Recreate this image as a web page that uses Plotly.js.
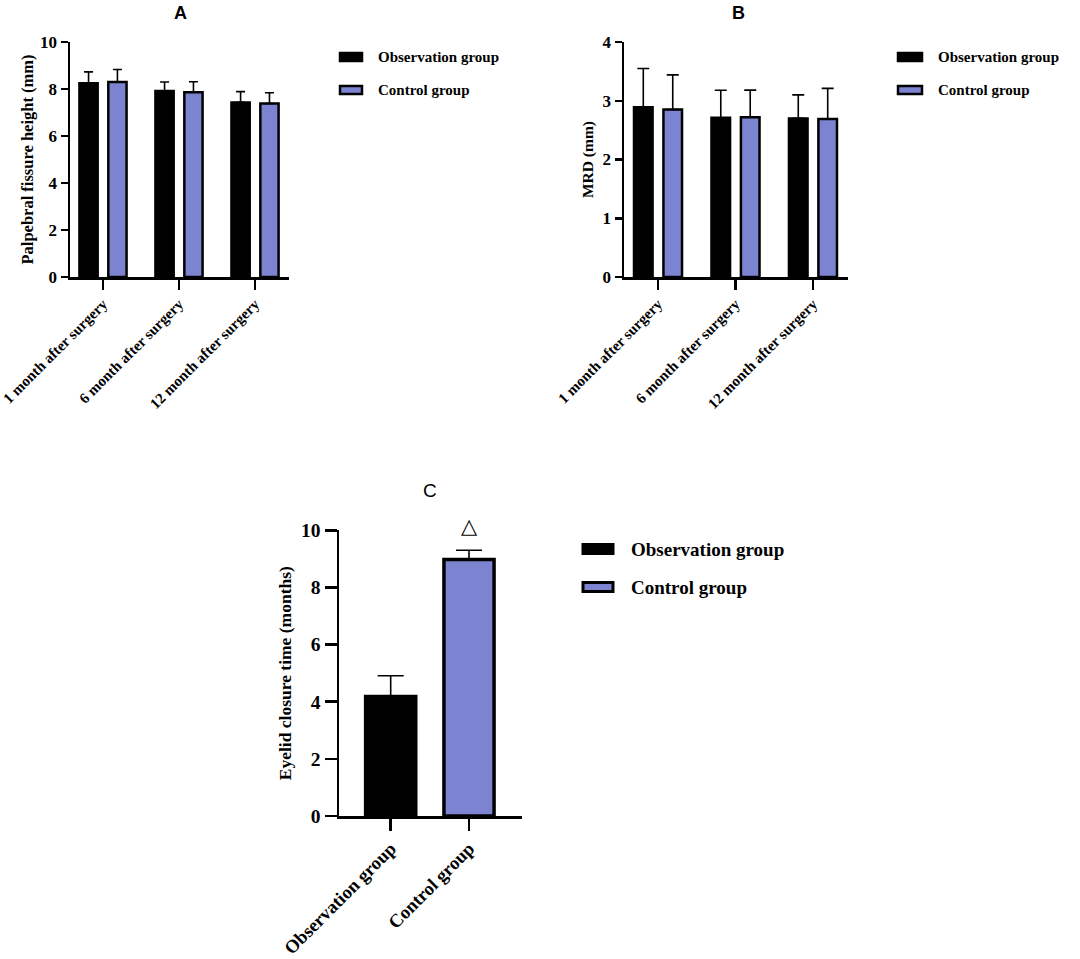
<!DOCTYPE html>
<html>
<head>
<meta charset="utf-8">
<script src="https://cdn.plot.ly/plotly-3.0.1.min.js"></script>
<style>
  html, body { margin: 0; padding: 0; background: #fff; }
  #chart { width: 1080px; height: 959px; }
</style>
</head>
<body>
<div id="chart"></div>
<script>
// categories
var timePoints = ['1 month after surgery', '6 month after surgery', '12 month after surgery'];
var groupNames = ['Observation group', 'Control group'];

// panel A - palpebral fissure height (mm), mean and SD
var fissureObs = [8.25, 7.92, 7.43];
var fissureObsSd = [0.48, 0.38, 0.46];
var fissureCtrl = [8.30, 7.86, 7.38];
var fissureCtrlSd = [0.53, 0.45, 0.46];

// panel B - MRD (mm)
var mrdObs = [2.89, 2.71, 2.70];
var mrdObsSd = [0.66, 0.47, 0.40];
var mrdCtrl = [2.85, 2.72, 2.69];
var mrdCtrlSd = [0.59, 0.46, 0.52];

// panel C - eyelid closure time (months)
var closureMean = [4.18, 8.98];
var closureSd = [0.73, 0.32];

var BLUE = '#7c84d1';
var serif = 'Liberation Serif, Times New Roman, serif';
var sans = 'Liberation Sans, Arial, sans-serif';

function zeros(a) { return a.map(function () { return 0; }); }

function barTrace(x, y, sd, fill, ax, offset, width, lw, cap) {
  return {
    type: 'bar', x: x, y: y,
    xaxis: 'x' + ax, yaxis: 'y' + ax,
    offset: offset, width: width,
    marker: {color: fill, line: {color: '#000', width: lw}},
    error_y: {type: 'data', symmetric: false, array: sd, arrayminus: zeros(sd),
              color: '#000', thickness: 1.6, width: cap},
    showlegend: false, hoverinfo: 'skip'
  };
}

var data = [
  barTrace(timePoints, fissureObs, fissureObsSd, '#000', '', -0.31, 0.24, 2.5, 4.5),
  barTrace(timePoints, fissureCtrl, fissureCtrlSd, BLUE, '', 0.07, 0.24, 2.5, 4.5),
  barTrace(timePoints, mrdObs, mrdObsSd, '#000', '2', -0.31, 0.24, 2.5, 6),
  barTrace(timePoints, mrdCtrl, mrdCtrlSd, BLUE, '2', 0.07, 0.24, 2.5, 6),
  barTrace([groupNames[0]], [closureMean[0]], [closureSd[0]], '#000', '3', -0.32, 0.64, 3.5, 13),
  barTrace([groupNames[1]], [closureMean[1]], [closureSd[1]], BLUE, '3', -0.32, 0.64, 3.5, 13)
];

function xAx(domain, range, anchor, fs, tlen) {
  return {
    domain: domain, range: range, anchor: anchor, type: 'category',
    showline: true, linecolor: '#000', linewidth: 2.5, mirror: false,
    ticks: 'outside', ticklen: tlen, tickwidth: 2.5, tickcolor: '#000',
    showgrid: false, zeroline: false, tickangle: -45, fixedrange: true,
    tickfont: {family: serif, size: fs, color: '#000', weight: 'bold'}
  };
}
function yAx(domain, range, dtick, anchor, title, fs, tfs, standoff, tlen) {
  return {
    domain: domain, range: range, dtick: dtick, anchor: anchor,
    showline: true, linecolor: '#000', linewidth: 2.5,
    ticks: 'outside', ticklen: tlen, tickwidth: 2.5, tickcolor: '#000',
    showgrid: false, zeroline: false, fixedrange: true,
    tickfont: {family: serif, size: fs, color: '#000', weight: 'bold'},
    title: {text: title, standoff: standoff,
            font: {family: serif, size: tfs, color: '#000', weight: 'bold'}}
  };
}

var shapes = [];
var annotations = [];

// panel letters
[['A', 180, 13, 'bold', 18], ['B', 738, 13, 'bold', 18], ['C', 430, 490, 'normal', 19]].forEach(function (t) {
  annotations.push({
    text: t[0], xref: 'paper', yref: 'paper', x: t[1] / 1080, y: 1 - t[2] / 959,
    showarrow: false, xanchor: 'center', yanchor: 'middle',
    font: {family: sans, size: t[4], color: '#000', weight: t[3]}
  });
});

// legends drawn as swatch + label
function legend(x0, x1, tx, ys, h, fs, lw) {
  groupNames.forEach(function (name, i) {
    var y = ys[i];
    shapes.push({
      type: 'rect', xref: 'paper', yref: 'paper',
      x0: x0 / 1080, x1: x1 / 1080, y0: 1 - (y - h / 2) / 959, y1: 1 - (y + h / 2) / 959,
      fillcolor: i === 0 ? '#000' : BLUE, line: {color: '#000', width: lw}
    });
    annotations.push({
      text: name, xref: 'paper', yref: 'paper', x: tx / 1080, y: 1 - y / 959,
      showarrow: false, xanchor: 'left', yanchor: 'middle',
      font: {family: serif, size: fs, color: '#000', weight: 'bold'}
    });
  });
}
legend(340, 362, 376, [57, 90], 8, 15, 2.5);
legend(898, 922, 936, [57, 90], 8, 15, 2.5);
legend(583, 613, 629, [549, 587], 9, 19, 3);

// significance mark over control group
annotations.push({
  text: '\u25B3', xref: 'x3', yref: 'y3', x: groupNames[1], y: 10, yshift: 4,
  showarrow: false, xanchor: 'center', yanchor: 'middle',
  font: {family: 'DejaVu Sans', size: 21, color: '#000'}
});

var layout = {
  width: 1080, height: 959,
  margin: {l: 0, r: 0, t: 0, b: 0},
  paper_bgcolor: '#fff', plot_bgcolor: 'rgba(0,0,0,0)',
  showlegend: false, barmode: 'overlay',
  xaxis: xAx([70 / 1080, 289 / 1080], [-0.434, 2.447], 'y', 15, 10),
  yaxis: yAx([1 - 277 / 959, 1 - 42 / 959], [0, 10], 2, 'x', 'Palpebral fissure height (mm)', 17, 16.5, 3, 7),
  xaxis2: xAx([624 / 1080, 848 / 1080], [-0.439, 2.452], 'y2', 15, 10),
  yaxis2: yAx([1 - 277 / 959, 1 - 42 / 959], [0, 4], 1, 'x2', 'MRD (mm)', 17, 15.5, 5, 7),
  xaxis3: xAx([339 / 1080, 521.7 / 1080], [-0.66, 1.673], 'y3', 18.5, 12),
  yaxis3: yAx([1 - 816 / 959, 1 - 530.3 / 959], [0, 10], 2, 'x3', 'Eyelid closure time (months)', 19.5, 17.5, 5, 12),
  shapes: shapes,
  annotations: annotations
};

Plotly.newPlot('chart', data, layout, {staticPlot: true, displayModeBar: false});
</script>
</body>
</html>
